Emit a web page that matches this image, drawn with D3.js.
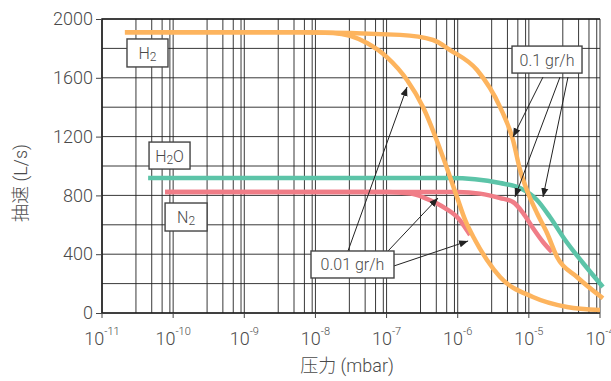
<!DOCTYPE html>
<html>
<head>
<meta charset="utf-8">
<script src="https://cdn.jsdelivr.net/npm/d3@7"></script>
<style>
  body { margin: 0; background: #fff; }
  text { font-family: Roboto, "Noto Sans CJK SC", sans-serif; font-weight: 300; }
</style>
</head>
<body>
<script>
// pressures in mbar, speeds in L/s
const h2LowP = [2.1e-11, 6.1e-9, 1.77e-8, 5.3e-8, 1.01e-7, 1.94e-7, 3.25e-7, 6.2e-7, 9.77e-7, 1.27e-6, 1.75e-6, 2.58e-6, 3.94e-6, 1.14e-5, 3.44e-5, 1.0e-4];
const h2LowS = [1910, 1910, 1905, 1837, 1741, 1585, 1401, 1061, 789, 633, 497, 361, 245, 109, 41, 20];
const h2HighP = [2.1e-11, 6.1e-9, 1.55e-7, 4.5e-7, 7.8e-7, 1.87e-6, 3.94e-6, 5.98e-6, 7.52e-6, 9.73e-6, 1.3e-5, 1.8e-5, 2.49e-5, 4.75e-5, 1.1e-4];
const h2HighS = [1910, 1910, 1892, 1857, 1789, 1653, 1401, 1177, 973, 816, 680, 544, 381, 245, 100];
const h2oP = [4.45e-11, 7.8e-7, 3.94e-6, 7.52e-6, 1.3e-5, 1.98e-5, 3.2e-5, 5.77e-5, 1.1e-4];
const h2oS = [918, 918, 884, 850, 769, 653, 500, 340, 177];
const n2LowP = [7.7e-11, 1.0e-7, 2.2e-7, 3.47e-7, 6.62e-7, 1.01e-6, 1.4e-6, 1.49e-6];
const n2LowS = [823, 823, 812, 782, 714, 646, 551, 531];
const n2HighP = [7.7e-11, 1.0e-6, 2.06e-6, 3.94e-6, 5.98e-6, 8.3e-6, 1.14e-5, 1.58e-5, 2.11e-5];
const n2HighS = [823, 823, 812, 782, 755, 680, 578, 483, 415];

const yTicks = [0, 400, 800, 1200, 1600, 2000];
const decades = [-11, -10, -9, -8, -7, -6, -5, -4];

// label boxes: [text, sub, tail, pressure, speed, w, h]
const boxes = [
  ['H', '2', '', 4.36e-11, 1769, 41, 28],
  ['H', '2', 'O', 8.9e-11, 1071, 41, 27],
  ['N', '2', '', 1.52e-10, 653, 42, 28],
  ['0.1 gr/h', '', '', 1.8e-5, 1724, 70, 27],
  ['0.01 gr/h', '', '', 3.32e-8, 330, 83, 27]
];
// arrows: [fromP, fromS, toP, toS]
const arrows = [
  [1.58e-5, 1605, 5.98e-6, 1197],
  [2.74e-5, 1605, 6.38e-6, 789],
  [3.55e-5, 1605, 1.58e-5, 789],
  [2.87e-8, 422, 1.94e-7, 1537],
  [1.05e-7, 422, 5.28e-7, 782],
  [1.27e-7, 320, 1.4e-6, 490]
];

const width = 611, height = 381;
const margin = { left: 102, right: 11, top: 19, bottom: 68 };
const textColor = '#4a4a4a';

const svg = d3.select('body').append('svg')
  .attr('width', width)
  .attr('height', height);

const x = d3.scaleLog().domain([1e-11, 1e-4]).range([margin.left, width - margin.right]);
const y = d3.scaleLinear().domain([0, 2000]).range([height - margin.bottom, margin.top]);

svg.append('defs').append('marker')
  .attr('id', 'arr')
  .attr('viewBox', '0 0 10 10')
  .attr('refX', 10).attr('refY', 5)
  .attr('markerWidth', 9).attr('markerHeight', 9)
  .attr('markerUnits', 'userSpaceOnUse')
  .attr('orient', 'auto')
  .append('path')
  .attr('d', 'M0,1 L10,5 L0,9 Z')
  .attr('fill', '#222');

// grid
const grid = svg.append('g').attr('stroke', '#222').attr('stroke-width', 0.9);
d3.range(0, 2001, 200).forEach(v => {
  grid.append('line').attr('x1', x.range()[0]).attr('x2', x.range()[1])
    .attr('y1', y(v)).attr('y2', y(v));
});
decades.forEach(d => {
  [1, 3, 5, 7, 9].forEach(k => {
    const p = k * Math.pow(10, d);
    if (p > 1.0001e-4) return;
    grid.append('line').attr('x1', x(p)).attr('x2', x(p))
      .attr('y1', y(0)).attr('y2', y(2000));
  });
});

// frame
svg.append('path')
  .attr('d', `M${x.range()[1]},${y(2000)} H${x.range()[0]} V${y(0)} H${x.range()[1]}`)
  .attr('fill', 'none').attr('stroke', '#222').attr('stroke-width', 1.6);

// y axis
const yAxis = svg.append('g')
  .attr('transform', `translate(${margin.left},0)`)
  .call(d3.axisLeft(y).tickValues(yTicks).tickFormat(d3.format('d')).tickSize(6).tickPadding(3));
yAxis.select('.domain').remove();
yAxis.selectAll('line').attr('stroke', '#444');
yAxis.selectAll('text')
  .style('font-size', '18px')
  .style('font-family', 'Roboto, sans-serif')
  .style('font-weight', 300)
  .attr('fill', textColor);

// x axis ticks + labels
const xAxis = svg.append('g');
decades.forEach(d => {
  const px = x(Math.pow(10, d));
  xAxis.append('line').attr('x1', px).attr('x2', px)
    .attr('y1', y(0)).attr('y2', y(0) + 5).attr('stroke', '#444');
  const t = xAxis.append('text')
    .attr('x', px).attr('y', y(0) + 32)
    .attr('text-anchor', 'middle')
    .attr('fill', textColor)
    .style('font-size', '18px');
  t.append('tspan').text('10');
  t.append('tspan').attr('dy', -10).style('font-size', '11px').text(String(d));
});

svg.append('text')
  .attr('x', (x.range()[0] + x.range()[1]) / 2 - 4)
  .attr('y', 372)
  .attr('text-anchor', 'middle')
  .attr('fill', textColor)
  .style('font-size', '18px')
  .text('压力 (mbar)');

svg.append('text')
  .attr('transform', 'translate(27,183) rotate(-90)')
  .attr('text-anchor', 'middle')
  .attr('fill', textColor)
  .style('font-size', '18px')
  .text('抽速 (L/s)');

// curves
const line = d3.line().x(d => x(d[0])).y(d => y(d[1])).curve(d3.curveMonotoneX);
const series = [
  [h2oP, h2oS, '#5cc4a8'],
  [n2LowP, n2LowS, '#f07d87'],
  [n2HighP, n2HighS, '#f07d87'],
  [h2LowP, h2LowS, '#fdb45e'],
  [h2HighP, h2HighS, '#fdb45e']
];
svg.append('g').selectAll('path')
  .data(series)
  .enter().append('path')
  .attr('d', s => line(s[0].map((p, i) => [p, s[1][i]])))
  .attr('fill', 'none')
  .attr('stroke', s => s[2])
  .attr('stroke-width', 4.5);

// arrows
svg.append('g').selectAll('line')
  .data(arrows)
  .enter().append('line')
  .attr('x1', a => x(a[0])).attr('y1', a => y(a[1]))
  .attr('x2', a => x(a[2])).attr('y2', a => y(a[3]))
  .attr('stroke', '#222').attr('stroke-width', 1)
  .attr('marker-end', 'url(#arr)');

// label boxes
const bx = svg.append('g').selectAll('g')
  .data(boxes)
  .enter().append('g')
  .attr('transform', b => `translate(${x(b[3])},${y(b[4])})`);
bx.append('rect')
  .attr('x', b => -b[5] / 2).attr('y', b => -b[6] / 2)
  .attr('width', b => b[5]).attr('height', b => b[6])
  .attr('fill', '#fff').attr('stroke', '#444').attr('stroke-width', 1.4);
const bt = bx.append('text')
  .attr('text-anchor', 'middle')
  .attr('y', 6)
  .attr('fill', textColor)
  .style('font-size', '16px');
bt.append('tspan').text(b => b[0]);
bt.append('tspan').attr('dy', 2).style('font-size', '12px').text(b => b[1]);
bt.append('tspan').attr('dy', -2).text(b => b[2]);
</script>
</body>
</html>
